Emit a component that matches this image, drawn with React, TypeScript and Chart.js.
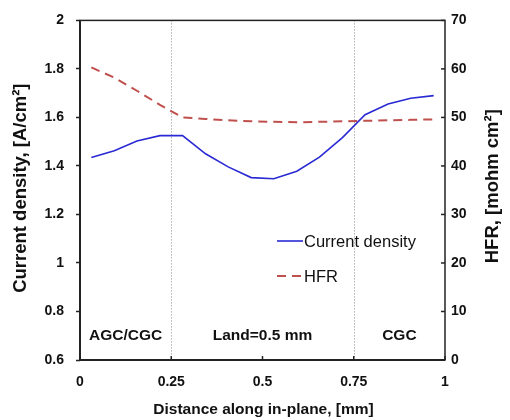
import React, { useEffect, useRef } from "react";
import { Chart, registerables } from "chart.js";

Chart.register(...registerables);

const positions = [0.031, 0.094, 0.156, 0.219, 0.281, 0.344, 0.406, 0.469, 0.531, 0.594, 0.656, 0.719, 0.781, 0.844, 0.906, 0.969];
const currentDensity = [1.435, 1.463, 1.503, 1.525, 1.525, 1.45, 1.396, 1.352, 1.347, 1.378, 1.436, 1.517, 1.611, 1.655, 1.679, 1.69];
const hfr = [60.3, 58.2, 55.5, 52.6, 50.0, 49.7, 49.4, 49.2, 49.1, 49.0, 49.1, 49.2, 49.3, 49.4, 49.5, 49.6];
const regionBounds = [0.25, 0.75];
const regionLabels = [
  { text: "AGC/CGC", at: 0.125 },
  { text: "Land=0.5 mm", at: 0.5 },
  { text: "CGC", at: 0.875 },
];
const xTitle = "Distance along in-plane, [mm]";
const yLeftTitle = "Current density, [A/cm²]";
const yRightTitle = "HFR, [mohm cm²]";

const FONT = "'Liberation Sans', Arial, sans-serif";

const fmt = (v: any) => String(Number(Number(v).toFixed(3)));

const overlay = {
  id: "overlay",
  beforeDatasetsDraw(chart: any) {
    const { ctx, chartArea: a, scales } = chart;
    const x = scales.x;
    ctx.save();
    ctx.strokeStyle = "#8a8a8a";
    ctx.lineWidth = 1;
    ctx.setLineDash([1, 2]);
    regionBounds.forEach((v) => {
      const px = Math.round(x.getPixelForValue(v)) + 0.5;
      ctx.beginPath();
      ctx.moveTo(px, a.top);
      ctx.lineTo(px, a.bottom);
      ctx.stroke();
    });
    ctx.setLineDash([]);
    ctx.fillStyle = "#111";
    ctx.font = `bold 15.5px ${FONT}`;
    ctx.textAlign = "center";
    ctx.textBaseline = "middle";
    const yLab = scales.y.getPixelForValue(0.7);
    regionLabels.forEach((r) => {
      ctx.fillText(r.text, x.getPixelForValue(r.at), yLab);
    });
    ctx.restore();
  },
  afterDraw(chart: any) {
    const { ctx, chartArea: a, scales } = chart;
    ctx.save();
    ctx.strokeStyle = "#222";
    ctx.lineWidth = 1.5;
    ctx.strokeRect(a.left, a.top, a.right - a.left, a.bottom - a.top);
    ctx.lineWidth = 2;
    ctx.beginPath();
    ctx.moveTo(a.left, a.top);
    ctx.lineTo(a.left, a.bottom);
    ctx.lineTo(a.right, a.bottom);
    ctx.stroke();
    ctx.lineWidth = 1.5;
    scales.x.ticks.forEach((t: any) => {
      const px = scales.x.getPixelForValue(t.value);
      ctx.beginPath();
      ctx.moveTo(px, a.bottom);
      ctx.lineTo(px, a.bottom - 4);
      ctx.stroke();
    });
    scales.y1.ticks.forEach((t: any) => {
      const py = scales.y1.getPixelForValue(t.value);
      ctx.beginPath();
      ctx.moveTo(a.right, py);
      ctx.lineTo(a.right - 4, py);
      ctx.stroke();
    });
    const items = chart.data.datasets;
    const ly = [241, 276];
    items.forEach((ds: any, i: number) => {
      ctx.strokeStyle = ds.borderColor;
      ctx.lineWidth = ds.borderWidth;
      ctx.setLineDash(ds.borderDash || []);
      ctx.beginPath();
      ctx.moveTo(277, ly[i]);
      ctx.lineTo(303, ly[i]);
      ctx.stroke();
      ctx.setLineDash([]);
      ctx.fillStyle = "#111";
      ctx.font = `16.5px ${FONT}`;
      ctx.textAlign = "left";
      ctx.textBaseline = "middle";
      ctx.fillText(ds.label, 304, ly[i] + 1);
    });
    ctx.fillStyle = "#111";
    ctx.textAlign = "center";
    ctx.textBaseline = "middle";
    ctx.font = `bold 15.5px ${FONT}`;
    ctx.fillText(xTitle, (a.left + a.right) / 2 + 1, 410);
    const cy = (a.top + a.bottom) / 2;
    ctx.font = `bold 18.5px ${FONT}`;
    ctx.save();
    ctx.translate(21, cy - 2);
    ctx.rotate(-Math.PI / 2);
    ctx.fillText(yLeftTitle, 0, 0);
    ctx.restore();
    ctx.save();
    ctx.translate(493, cy - 4);
    ctx.rotate(-Math.PI / 2);
    ctx.fillText(yRightTitle, 0, 0);
    ctx.restore();
    ctx.restore();
  },
};

export default function App() {
  const ref = useRef<HTMLCanvasElement | null>(null);
  useEffect(() => {
    if (!ref.current) return;
    const tickFont = { family: FONT, size: 14, weight: "bold" as const };
    const chart = new Chart(ref.current, {
      type: "line",
      data: {
        datasets: [
          {
            label: "Current density",
            data: positions.map((p, i) => ({ x: p, y: currentDensity[i] })),
            borderColor: "#2a2ad4",
            borderWidth: 1.6,
            pointRadius: 0,
            yAxisID: "y",
            tension: 0,
          },
          {
            label: "HFR",
            data: positions.map((p, i) => ({ x: p, y: hfr[i] })),
            borderColor: "#c0504d",
            borderWidth: 2,
            borderDash: [9, 6],
            pointRadius: 0,
            yAxisID: "y1",
            tension: 0,
          },
        ],
      },
      options: {
        animation: false,
        responsive: false,
        layout: { padding: { top: 14, left: 0, right: 0, bottom: 0 } },
        plugins: { legend: { display: false }, tooltip: { enabled: false } },
        scales: {
          x: {
            type: "linear",
            min: 0,
            max: 1,
            ticks: { stepSize: 0.25, color: "#111", font: tickFont, padding: 14, callback: fmt },
            grid: { drawOnChartArea: false, drawTicks: false, tickLength: 0 },
            border: { display: false },
            afterFit: (s: any) => { s.height = 60; },
          },
          y: {
            position: "left",
            min: 0.6,
            max: 2,
            ticks: { stepSize: 0.2, color: "#111", font: tickFont, padding: 12, callback: fmt },
            grid: { drawOnChartArea: false, tickLength: 4, color: "#222", tickWidth: 1.5 },
            border: { display: false },
            afterFit: (s: any) => { s.width = 80; },
          },
          y1: {
            position: "right",
            min: 0,
            max: 70,
            ticks: { stepSize: 10, color: "#111", font: tickFont, padding: 6, callback: fmt },
            grid: { drawOnChartArea: false, drawTicks: false, tickLength: 0 },
            border: { display: false },
            afterFit: (s: any) => { s.width = 65; },
          },
        },
      },
      plugins: [overlay],
    });
    return () => chart.destroy();
  }, []);
  return (
    <div style={{ position: "fixed", left: 0, top: 0, width: 510, height: 420, background: "#fff" }}>
      <canvas ref={ref} width={510} height={420} style={{ display: "block" }} />
    </div>
  );
}
